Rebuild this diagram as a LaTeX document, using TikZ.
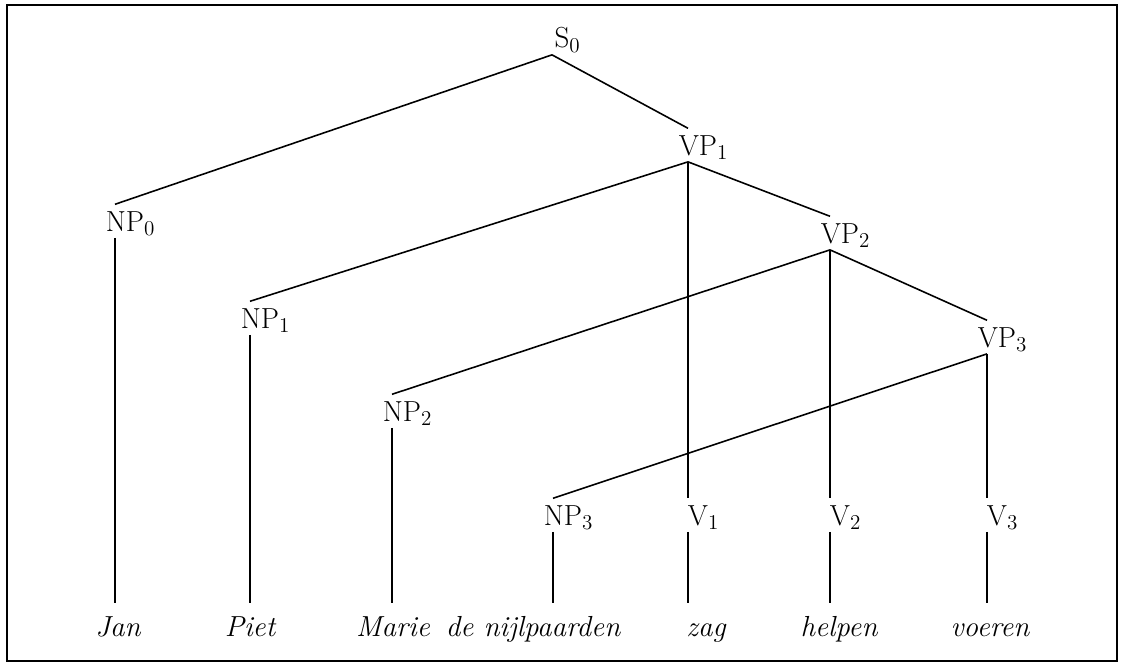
\documentclass[tikz,border=0pt]{standalone}
\usepackage{tikz}

\begin{document}
\begin{tikzpicture}[
  cat/.style={font=\fontsize{16.5}{20}\selectfont, anchor=base, inner xsep=0pt, inner ysep=3.7pt, text height=11.3pt, text depth=0pt, execute at begin node={\hspace*{11.4pt}}},
  word/.style={font=\fontsize{16.5}{20}\selectfont\itshape, anchor=base, inner xsep=0pt, inner ysep=7.5pt, text height=11.3pt, text depth=0pt},
  branch/.style={line width=0.9pt}
]
  \useasboundingbox (0,0) rectangle (22.46,-13.28);
  \draw[line width=1.4pt] (0.14,-0.10) rectangle (22.34,-13.22);

  % categories
  \node[cat] (S0) at (11.04,-0.96) {S\rlap{$_0$}};
  \node[cat] (VP1) at (13.76,-3.10) {VP\rlap{$_1$}};
  \node[cat] (NP0) at (2.30,-4.62) {NP\rlap{$_0$}};
  \node[cat] (VP2) at (16.60,-4.86) {VP\rlap{$_2$}};
  \node[cat] (NP1) at (5.00,-6.56) {NP\rlap{$_1$}};
  \node[cat] (VP3) at (19.74,-6.94) {VP\rlap{$_3$}};
  \node[cat] (NP2) at (7.84,-8.42) {NP\rlap{$_2$}};
  \node[cat] (NP3) at (11.06,-10.50) {NP\rlap{$_3$}};
  \node[cat] (V1) at (13.76,-10.50) {V\rlap{$_1$}};
  \node[cat] (V2) at (16.60,-10.50) {V\rlap{$_2$}};
  \node[cat] (V3) at (19.74,-10.50) {V\rlap{$_3$}};

  % words
  \node[word] (jan) at (2.36,-12.72) {Jan};
  \node[word] (piet) at (5.00,-12.72) {Piet};
  \node[word] (marie) at (7.86,-12.72) {Marie};
  \node[word] (nijl) at (10.66,-12.72) {de nijlpaarden};
  \node[word] (zag) at (14.12,-12.72) {zag};
  \node[word] (helpen) at (16.78,-12.72) {helpen};
  \node[word] (voeren) at (19.80,-12.72) {voeren};

  % branches
  \draw[branch] (S0.south) -- (NP0.north);
  \draw[branch] (S0.south) -- (VP1.north);
  \draw[branch] (VP1.south) -- (NP1.north);
  \draw[branch] (VP1.south) -- (V1.north);
  \draw[branch] (VP1.south) -- (VP2.north);
  \draw[branch] (VP2.south) -- (NP2.north);
  \draw[branch] (VP2.south) -- (V2.north);
  \draw[branch] (VP2.south) -- (VP3.north);
  \draw[branch] (VP3.south) -- (NP3.north);
  \draw[branch] (VP3.south) -- (V3.north);

  % lexical lines
  \draw[branch] (NP0.south) -- (NP0.south |- jan.north);
  \draw[branch] (NP1.south) -- (NP1.south |- piet.north);
  \draw[branch] (NP2.south) -- (NP2.south |- marie.north);
  \draw[branch] (NP3.south) -- (NP3.south |- nijl.north);
  \draw[branch] (V1.south) -- (V1.south |- zag.north);
  \draw[branch] (V2.south) -- (V2.south |- helpen.north);
  \draw[branch] (V3.south) -- (V3.south |- voeren.north);
\end{tikzpicture}
\end{document}
